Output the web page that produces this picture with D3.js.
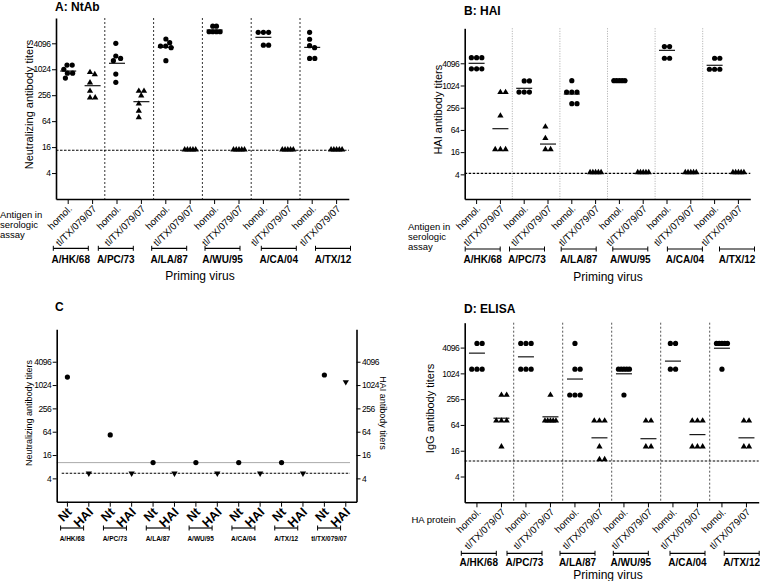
<!DOCTYPE html>
<html><head><meta charset="utf-8">
<script src="https://cdn.jsdelivr.net/npm/d3@7"></script>
<style>
body{margin:0;background:#fff;}
svg{display:block;font-family:"Liberation Sans",Arial,sans-serif;}
</style></head><body>
<svg id="c" width="760" height="581"></svg>
<script>
// ---------------- DATA ----------------
const viruses = ["A/HK/68","A/PC/73","A/LA/87","A/WU/95","A/CA/04","A/TX/12"];
const antigens = ["homol.","tl/TX/079/07"];
const yTickValues = [4,16,64,256,1024,4096];

// Panel A: neutralizing antibody titers
const ntHomol = [
  [1280,1280,1024,830,830,640],
  [4096,2080,1830,1620,790,510],
  [5150,4240,3540,3540,3240,1620],
  [10240,10240,7600,7600,7600,7600],
  [7360,7360,7360,3700,3700],
  [7360,5080,3600,3240,1830,1830]
];
const ntTl = [
  [870,780,500,320,224,224],
  [320,320,250,162,111,78],
  [14,14,14,14,14],
  [14,14,14,14,14],
  [14,14,14,14,14],
  [14,14,14,14,14]
];
const ntHomolMean = [930,1410,3300,8350,5640,3300];
const ntTlMean = [425,181,null,null,null,null];
const ntLimit = 13.5;

// Panel B: HAI titers
const haiHomol = [
  [5800,5800,5800,2900,2900,2900],
  [1360,1360,680,680,680],
  [1380,680,680,680,330,330],
  [1380,1380,1380,1380,1380],
  [11600,11600,5600,5600],
  [5600,5600,2820,2820,2820]
];
const haiTl = [
  [670,670,155,19,19,19],
  [78,38,19,19],
  [4.5,4.5,4.5,4.5,4.5],
  [4.5,4.5,4.5,4.5,4.5],
  [4.5,4.5,4.5,4.5,4.5],
  [4.5,4.5,4.5,4.5,4.5]
];
const haiHomolMean = [4096,860,600,1380,9200,3620];
const haiTlMean = [69,26.5,null,null,null,null];
const haiLimit = 4.25;

// Panel C
const cViruses = ["A/HK/68","A/PC/73","A/LA/87","A/WU/95","A/CA/04","A/TX/12","tl/TX/079/07"];
const cAssays = ["Nt","HAI"];
const cNt = [1650,53,10.2,10.2,10.2,10.2,1860];
const cHai = [5.4,5.4,5.4,5.4,5.4,5.4,1230];
const cNtCutoff = 10.2;
const cHaiCutoff = 5.4;

// Panel D: ELISA IgG titers
const elisaHomol = [
  [5120,5120,1280,1280,1280],
  [5120,5120,5120,1280,1280,1280],
  [5120,1280,1280,320,320,320],
  [1280,1280,1280,1280,1280,320],
  [5120,5120,1280,1280],
  [5120,5120,5120,5120,5120,1280]
];
const elisaTl = [
  [320,320,80,80,80,20],
  [320,80,80,80,80,80],
  [80,80,80,20,10,10],
  [80,80,20,20],
  [80,80,80,20,20,20],
  [80,80,20,20]
];
const elisaHomolMean = [3040,2490,755,1000,1980,3960];
const elisaTlMean = [92,99,32,30.5,38,32];
const elisaLimit = 9.2;

// ---------------- DRAWING ----------------
const svg = d3.select("#c");
const triPath = d3.symbol().type(d3.symbolTriangle).size(17)();

function swarm(vals, y, d, maxW){
  const pts = vals.map(v=>({v, y:y(v), x:0}));
  pts.sort((a,b)=>a.y-b.y);
  const placed=[];
  for(const p of pts){
    let found=null;
    for(let k=0;k<400 && found===null;k++){
      const cands = k===0?[0]:[k*0.2,-k*0.2];
      for(const c of cands){
        if(placed.every(q=>Math.hypot(q.x-c,q.y-p.y)>=d)){found=c;break;}
      }
    }
    p.x=found; placed.push(p);
  }
  const [mn,mx]=d3.extent(placed,p=>p.x);
  const mid=(mn+mx)/2, w=mx-mn, s=w>maxW?maxW/w:1;
  placed.forEach(p=>p.x=(p.x-mid)*s);
  return placed;
}

function yAxis(g, y, x0, side, fs){
  const ax = (side==="left"?d3.axisLeft(y):d3.axisRight(y))
    .tickValues(yTickValues).tickFormat(d3.format("d")).tickSize(4).tickPadding(1.5).tickSizeOuter(0);
  const a = g.append("g").attr("transform",`translate(${x0},0)`).call(ax);
  a.attr("font-family",null).attr("font-size",fs);
  a.select(".domain").attr("stroke-width",1.6);
  a.selectAll(".tick text").attr("fill","#000").attr("letter-spacing","-0.5px");
  return a;
}

function scatterPanel(o){
  const g = svg.append("g");
  const keys = viruses.flatMap(v=>antigens.map(a=>v+"|"+a));
  const x = d3.scaleBand().domain(keys).range([o.x0,o.x1]);
  const y = d3.scaleLog().base(2).domain(o.domain).range([o.yB,o.yT]);
  const bw = x.bandwidth();
  viruses.slice(1).forEach(v=>{
    const sx = x(v+"|"+antigens[0]);
    g.append("line").attr("x1",sx).attr("x2",sx).attr("y1",o.yT).attr("y2",o.yB)
      .attr("stroke",o.sepColor).attr("stroke-dasharray",o.sepDash).attr("stroke-width",1);
  });
  g.append("line").attr("x1",o.x0).attr("x2",o.x1).attr("y1",y(o.limit)).attr("y2",y(o.limit))
    .attr("stroke","#000").attr("stroke-dasharray","2.5,1.5").attr("stroke-width",1.1);
  [o.homol,o.tl].forEach((series,ai)=>series.forEach((vals,vi)=>{
    const cx = x(viruses[vi]+"|"+antigens[ai])+bw/2;
    swarm(vals,y,5.2,11).forEach(p=>{
      if(ai===0) g.append("circle").attr("cx",cx+p.x).attr("cy",p.y).attr("r",2.6).attr("fill","#000");
      else g.append("path").attr("d",triPath).attr("transform",`translate(${cx+p.x},${p.y})`).attr("fill","#000");
    });
  }));
  [o.homolMean,o.tlMean].forEach((ms,ai)=>ms.forEach((m,vi)=>{
    if(m==null) return;
    const cx = x(viruses[vi]+"|"+antigens[ai])+bw/2;
    g.append("line").attr("x1",cx-8).attr("x2",cx+8).attr("y1",y(m)).attr("y2",y(m))
      .attr("stroke","#000").attr("stroke-width",1.1);
  }));
  yAxis(g,y,o.x0,"left",8.5);
  const xa = g.append("g").attr("transform",`translate(0,${o.yB})`)
    .call(d3.axisBottom(x).tickSize(5).tickFormat("").tickSizeOuter(0));
  xa.select(".domain").attr("stroke-width",1.6);
  keys.forEach(k=>{
    const a = k.split("|")[1];
    g.append("text").attr("transform",`translate(${x(k)+bw/2+2},${o.yB+8}) rotate(-45)`)
      .attr("text-anchor","end").attr("dy","0.35em").attr("font-size",9.8).text(a);
  });
  g.append("text").attr("x",o.titleX).attr("y",o.titleY).attr("font-weight","bold").attr("font-size",12).text(o.title);
  g.append("text").attr("transform",`translate(${o.ylabX},${(o.yT+o.yB)/2-4}) rotate(-90)`)
    .attr("text-anchor","middle").attr("dy","0.35em").attr("font-size",11).text(o.ylabel);
  o.caption.forEach((t,i)=>g.append("text").attr("x",o.capX).attr("y",o.capY+i*10).attr("font-size",9.5).text(t));
  viruses.forEach((v,i)=>{
    const gc = x(v+"|"+antigens[0]) + bw + o.shift[i];
    const hw = 17.5, by = o.brY;
    g.append("line").attr("x1",gc-hw).attr("x2",gc+hw).attr("y1",by).attr("y2",by).attr("stroke","#000").attr("stroke-width",1.2);
    [gc-hw,gc+hw].forEach(ex=>g.append("line").attr("x1",ex).attr("x2",ex).attr("y1",by-2.5).attr("y2",by+2.5).attr("stroke","#000").attr("stroke-width",1));
    g.append("text").attr("x",gc).attr("y",o.glY).attr("text-anchor","middle").attr("font-weight","bold").attr("font-size",10).text(v);
  });
  g.append("text").attr("x",o.pvX).attr("y",o.pvY).attr("text-anchor","middle").attr("font-size",12).text("Priming virus");
}

scatterPanel({
  x0:56, x1:348.8, yT:18, yB:199, domain:[1,Math.pow(2,13.95)],
  homol:ntHomol, tl:ntTl, homolMean:ntHomolMean, tlMean:ntTlMean, limit:ntLimit,
  sepColor:"#333", sepDash:"2,2",
  title:"A: NtAb", titleX:55, titleY:10.5,
  ylabel:"Neutralizing antibody titers", ylabX:29,
  caption:["Antigen in","serologic","assay"], capX:0, capY:217.5,
  shift:[-9.6,-13.4,-8.8,-4.3,3.2,8.6], brY:248.3, glY:262.5, pvX:200, pvY:280
});
scatterPanel({
  x0:464.7, x1:750.3, yT:28.3, yB:199, domain:[Math.pow(2,-0.22),Math.pow(2,15.15)],
  homol:haiHomol, tl:haiTl, homolMean:haiHomolMean, tlMean:haiTlMean, limit:haiLimit,
  sepColor:"#aaa", sepDash:"1,1.5",
  title:"B: HAI", titleX:464, titleY:15,
  ylabel:"HAI antibody titers", ylabX:438,
  caption:["Antigen in","serologic","assay"], capX:408, capY:229.5,
  shift:[-5.8,-9.1,-5,-1,6,10.5], brY:249, glY:263, pvX:608, pvY:281
});
scatterPanel({
  x0:464.7, x1:758.7, yT:322.7, yB:502.3, domain:[1,Math.pow(2,13.93)],
  homol:elisaHomol, tl:elisaTl, homolMean:elisaHomolMean, tlMean:elisaTlMean, limit:elisaLimit,
  sepColor:"#555", sepDash:"2,2",
  title:"D: ELISA", titleX:464, titleY:312.5,
  ylabel:"IgG antibody titers", ylabX:430,
  caption:["HA protein"], capX:411.5, capY:523,
  shift:[-10.4,-13.7,-9.7,-5.4,2.3,7.5], brY:553.3, glY:566, pvX:608, pvY:579
});

// Panel C
(function(){
  const o = {x0:56.7, x1:356.5, yT:329.3, yB:501.7, domain:[1,Math.pow(2,14.78)]};
  const g = svg.append("g");
  const keys = cViruses.flatMap(v=>cAssays.map(a=>v+"|"+a));
  const x = d3.scaleBand().domain(keys).range([o.x0,o.x1]);
  const y = d3.scaleLog().base(2).domain(o.domain).range([o.yB,o.yT]);
  const bw = x.bandwidth();
  g.append("line").attr("x1",o.x0).attr("x2",350).attr("y1",y(cNtCutoff)).attr("y2",y(cNtCutoff))
    .attr("stroke","#aaa").attr("stroke-width",1);
  g.append("line").attr("x1",o.x0+5).attr("x2",350).attr("y1",y(cHaiCutoff)).attr("y2",y(cHaiCutoff))
    .attr("stroke","#000").attr("stroke-dasharray","2.5,1.5").attr("stroke-width",1.1);
  cViruses.forEach((v,i)=>{
    const nx = x(v+"|Nt")+bw/2, hx = x(v+"|HAI")+bw/2;
    g.append("circle").attr("cx",nx).attr("cy",y(cNt[i])).attr("r",2.6).attr("fill","#000");
    g.append("path").attr("d",triPath).attr("transform",`translate(${hx},${y(cHai[i])}) rotate(180)`).attr("fill","#000");
  });
  yAxis(g,y,o.x0,"left",8.5);
  yAxis(g,y,o.x1,"right",8.5);
  const xa = g.append("g").attr("transform",`translate(0,${o.yB})`)
    .call(d3.axisBottom(x).tickSize(5).tickFormat("").tickSizeOuter(0));
  xa.select(".domain").attr("stroke-width",1.6);
  keys.forEach(k=>{
    const a = k.split("|")[1];
    g.append("text").attr("transform",`translate(${x(k)+bw/2+2},${o.yB+8}) rotate(-45)`)
      .attr("text-anchor","end").attr("dy","0.35em").attr("font-size",12.5).attr("font-weight","bold").text(a);
  });
  g.append("text").attr("x",55).attr("y",311).attr("font-weight","bold").attr("font-size",12).text("C");
  g.append("text").attr("transform",`translate(29,413) rotate(-90)`).attr("text-anchor","middle")
    .attr("dy","0.35em").attr("font-size",9).text("Neutralizing antibody titers");
  g.append("text").attr("transform",`translate(383,413) rotate(90)`).attr("text-anchor","middle")
    .attr("dy","0.35em").attr("font-size",9).text("HAI antibody titers");
  cViruses.forEach(v=>{
    const gc = x(v+"|Nt") + bw - 6, hw = 11.5, by = 528;
    g.append("line").attr("x1",gc-hw).attr("x2",gc+hw).attr("y1",by).attr("y2",by).attr("stroke","#000").attr("stroke-width",1.2);
    [gc-hw,gc+hw].forEach(ex=>g.append("line").attr("x1",ex).attr("x2",ex).attr("y1",by-2.5).attr("y2",by+2.5).attr("stroke","#000").attr("stroke-width",1));
    g.append("text").attr("x",gc).attr("y",541).attr("text-anchor","middle").attr("font-weight","bold").attr("font-size",6.5).text(v);
  });
})();
</script>
</body></html>
